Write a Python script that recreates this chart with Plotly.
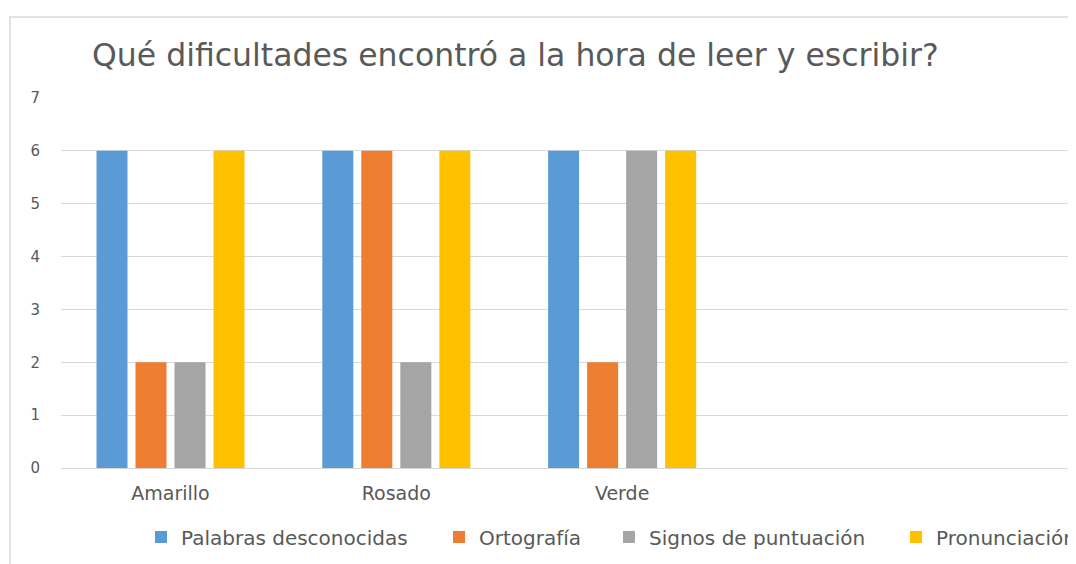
import plotly.graph_objects as go

categories = ["Amarillo", "Rosado", "Verde"]
series_names = ["Palabras desconocidas", "Ortografía", "Signos de puntuación", "Pronunciación"]
palabras = [6, 6, 6]
ortografia = [2, 6, 2]
signos = [2, 2, 6]
pronunciacion = [6, 6, 6]
y_ticks = [0, 1, 2, 3, 4, 5, 6, 7]
colors = ["#5B9BD5", "#ED7D31", "#A5A5A5", "#FFC000"]

# page has an 8px body margin: figure px = screen px - 8
OFF = 8
W, H = 1076 - OFF, 564 - OFF
L, R, T = 61 - OFF, 0, 98 - OFF
B = H - (468 - OFF)
pw, ph = W - L - R, H - T - B

legend_names = ["legend", "legend2", "legend3", "legend4"]
text_starts = [178, 476, 646, 933]  # screen px where each legend text begins

fig = go.Figure()
for name, vals, c, lg in zip(series_names, [palabras, ortografia, signos, pronunciacion], colors, legend_names):
    fig.add_trace(go.Bar(x=categories, y=vals, name=name, legend=lg, showlegend=True,
                         marker=dict(color=c, line=dict(width=0))))

font_family = "'DejaVu Sans', sans-serif"
legend_y = (468 - 537) / ph
legend_layout = {}
for lg, ts in zip(legend_names, text_starts):
    legend_layout[lg] = dict(orientation="h", x=(ts - 37 - OFF - L) / pw, xanchor="left",
                             y=legend_y, yanchor="middle", bgcolor="rgba(0,0,0,0)",
                             font=dict(size=20, color="#595959", family=font_family),
                             visible=True)

fig.update_layout(
    width=W, height=H,
    showlegend=True,
    margin=dict(l=L, r=R, t=T, b=B, autoexpand=False),
    paper_bgcolor="white", plot_bgcolor="white",
    barmode="group", bargap=0.309, bargroupgap=0.205,
    font=dict(family=font_family, color="#595959"),
    title=dict(text="Qué dificultades encontró a la hora de leer y escribir?",
               x=(92 - OFF - L) / pw, xref="paper", xanchor="left",
               y=1 - (55 - OFF) / H, yref="container", yanchor="middle",
               font=dict(size=31.5, color="#595959", family=font_family)),
    xaxis=dict(range=[-0.485, 4.01], showgrid=False, zeroline=False, showline=False,
               tickfont=dict(size=19, color="#595959"), ticklabelstandoff=12, fixedrange=True),
    yaxis=dict(range=[0, 7], tickvals=y_ticks, gridcolor="#D9D9D9", gridwidth=1,
               zeroline=True, zerolinecolor="#D9D9D9", zerolinewidth=1, showline=False,
               tickfont=dict(size=15, color="#595959"), ticklabelstandoff=20),
    shapes=[dict(type="rect", xref="paper", yref="paper",
                 x0=(10 - OFF - L) / pw, x1=1.05, y0=-0.4, y1=(468 - 17) / ph,
                 line=dict(color="#D9D9D9", width=1.5), fillcolor="rgba(0,0,0,0)", layer="below")],
    **legend_layout,
)
fig.write_html("out.html")
